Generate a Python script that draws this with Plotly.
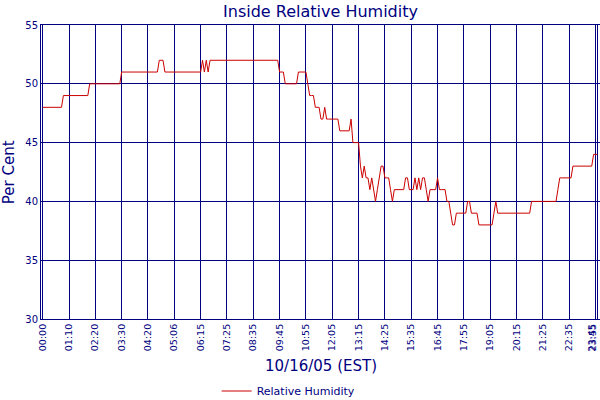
import plotly.graph_objects as go

# humidity readings, one per sample (14 samples between labelled ticks)
humidity = [
    48, 48, 48, 48, 48, 48, 48, 48, 48, 48, 48, 49, 49, 49,
    49, 49, 49, 49, 49, 49, 49, 49, 49, 49, 49, 50, 50, 50,
    50, 50, 50, 50, 50, 50, 50, 50, 50, 50, 50, 50, 50, 50,
    51, 51, 51, 51, 51, 51, 51, 51, 51, 51, 51, 51, 51, 51,
    51, 51, 51, 51, 51, 51, 52, 52, 52, 51, 51, 51, 51, 51,
    51, 51, 51, 51, 51, 51, 51, 51, 51, 51, 51, 51, 51, 51,
    51, 52, 51, 52, 51, 52, 52, 52, 52, 52, 52, 52, 52, 52,
    52, 52, 52, 52, 52, 52, 52, 52, 52, 52, 52, 52, 52, 52,
    52, 52, 52, 52, 52, 52, 52, 52, 52, 52, 52, 52, 52, 52,
    51, 51, 51, 50, 50, 50, 50, 50, 50, 50, 51, 51, 51, 51,
    51, 50, 49, 49, 49, 48, 48, 48, 47, 47, 48, 47, 47, 47,
    47, 47, 47, 47, 46, 46, 46, 46, 46, 46, 47, 45, 45, 45,
    45, 43, 42, 43, 42, 42, 41, 42, 41, 40, 41, 42, 43, 43,
    42, 42, 42, 41, 40, 41, 41, 41, 41, 41, 41, 42, 42, 41,
    41, 41, 42, 41, 42, 41, 42, 42, 41, 40, 41, 41, 41, 41,
    42, 41, 41, 41, 41, 40, 40, 39, 38, 38, 39, 39, 39, 39,
    39, 39, 40, 40, 39, 39, 39, 39, 38, 38, 38, 38, 38, 38,
    38, 38, 39, 40, 39, 39, 39, 39, 39, 39, 39, 39, 39, 39,
    39, 39, 39, 39, 39, 39, 39, 39, 40, 40, 40, 40, 40, 40,
    40, 40, 40, 40, 40, 40, 40, 40, 41, 42, 42, 42, 42, 42,
    42, 42, 43, 43, 43, 43, 43, 43, 43, 43, 43, 43, 43, 44,
    44, 44,
]
sample = list(range(len(humidity)))

tick_pos = [0, 14, 28, 42, 56, 70, 84, 98, 112, 126, 140, 154, 168,
            182, 196, 210, 224, 238, 252, 266, 280, 294, 295, 296]
tick_text = ['00:00', '01:10', '02:20', '03:30', '04:20', '05:06', '06:15',
             '07:25', '08:35', '09:45', '10:55', '12:05', '13:15', '14:25',
             '15:35', '16:45', '17:55', '19:05', '20:15', '21:25', '22:35',
             '', '', '']
# last labels crowd against the right edge, so they get nudged inward
end_labels = ['23:45', '23:55']
end_label_pos = [291.4, 292.3]

navy = '#000080'
font = 'DejaVu Sans'

fig = go.Figure(go.Scatter(
    x=sample,
    y=humidity,
    mode='lines',
    name='Relative Humidity',
    line=dict(color='#cc0000', width=1),
))

notes = [
    dict(text='10/16/05 (EST)', x=0.5, y=-0.16, xref='paper', yref='paper',
         showarrow=False, yanchor='middle', font=dict(size=15, color=navy)),
    dict(text='Per Cent', x=-0.057, y=0.5, xref='paper', yref='paper',
         showarrow=False, textangle=-90, xanchor='center',
         font=dict(size=15, color=navy)),
]
for lab, pos in zip(end_labels, end_label_pos):
    notes.append(dict(text=lab, x=pos, y=-0.012, xref='x', yref='paper',
                      showarrow=False, textangle=-90, xanchor='center',
                      yanchor='top', font=dict(size=9.5, color=navy)))

fig.update_layout(
    width=600, height=400,
    margin=dict(l=41, r=0, t=25, b=81, autoexpand=False),
    paper_bgcolor='white', plot_bgcolor='white',
    font=dict(family=font, color=navy),
    title=dict(text='Inside Relative Humidity', x=0.5, xref='paper',
               y=0.972, yref='container', yanchor='middle',
               font=dict(size=16, color=navy)),
    showlegend=True,
    legend=dict(orientation='h', x=0.443, xanchor='center',
                y=0.0225, yref='container', yanchor='middle',
                font=dict(size=11, color=navy)),
    annotations=notes,
)

fig.update_xaxes(
    range=[-0.9, 296.4], automargin=False,
    tickvals=tick_pos, ticktext=tick_text, tickangle=-90,
    tickfont=dict(size=9.5, color=navy),
    showgrid=True, gridcolor=navy, gridwidth=1,
    showline=True, linecolor=navy, mirror=True,
    zeroline=False, ticks='',
)
fig.update_yaxes(
    range=[30, 55], dtick=5, automargin=False,
    tickfont=dict(size=10, color=navy),
    showgrid=True, gridcolor=navy, gridwidth=1,
    showline=True, linecolor=navy, mirror=True,
    zeroline=False, ticks='',
)

# the page's default body margin would shift the figure by 8px
fig.write_html('out.html', config={'displayModeBar': False},
               post_script="document.body.style.margin='0';")
